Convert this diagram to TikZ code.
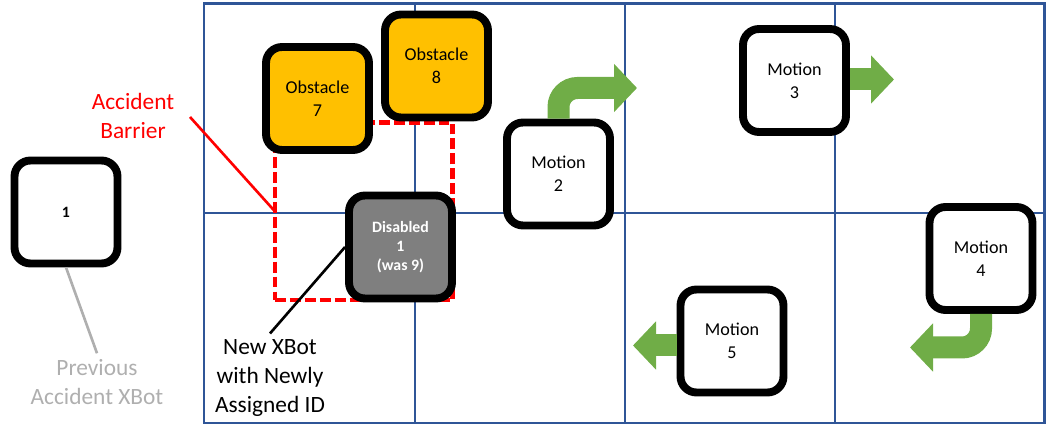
\documentclass[tikz,border=0pt]{standalone}
\usepackage{fontspec}
\setmainfont{Carlito}
\usepackage{tikz}
\usetikzlibrary{arrows.meta,calc,positioning}

\definecolor{gridblue}{HTML}{2F5597}
\definecolor{obstaclefill}{HTML}{FFC000}
\definecolor{disabledfill}{HTML}{7F7F7F}
\definecolor{movegreen}{HTML}{70AD47}
\definecolor{prevgray}{HTML}{AFAFAF}

\tikzset{
  xbot/.style={draw=black, line width=4.5pt, rounded corners=0.32cm, minimum size=2.06cm,
    inner sep=0pt, fill=white, align=center, font=\fontsize{10.3}{12.9}\selectfont},
  obstacle/.style={xbot, fill=obstaclefill},
  disabled/.style={xbot, fill=disabledfill, text=white, font=\fontsize{9}{10.8}\selectfont\bfseries},
  gridline/.style={draw=gridblue, line width=1.7pt},
  motion/.style={draw=movegreen, line width=0.44cm, -{Triangle[width=0.94cm,length=0.46cm]}},
  callout/.style={align=center, font=\fontsize{13.3}{16.4}\selectfont},
}

\begin{document}
\begin{tikzpicture}[x=0.02cm,y=-0.02cm]
            \useasboundingbox (0,0) rectangle (1049,428);
            % Draw the floor grid
            \draw[gridline] (204,4) rectangle (1044,423);
            \foreach \x in {415,625,835}
                \draw[gridline] (\x,4) -- (\x,423);
            \draw[gridline] (204,213) -- (1044,213);
            % Draw the accident barrier
            \node (barrier) [draw=red, line width=2.3pt, dash pattern=on 6.2pt off 2.3pt,
                minimum width=3.55cm, minimum height=3.56cm, inner sep=0pt, outer sep=0pt] at (363.75,211.5) {};
            % Place the XBots
            \node[xbot, font=\fontsize{9}{10.8}\selectfont\bfseries] (prev) at (66,212) {1};
            \node[obstacle] (obs7) at (317.5,98.5) {Obstacle\\7};
            \node[obstacle] (obs8) at (436.5,66) {Obstacle\\8};
            \node[disabled] (dis) at (400.5,247) {Disabled\\1\\(was 9)};
            \node[xbot] (mot2) at (558.5,174) {Motion\\2};
            \node[xbot] (mot3) at (794.5,80.5) {Motion\\3};
            \node[xbot] (mot4) at (981,258.5) {Motion\\4};
            \node[xbot] (mot5) at (732,341) {Motion\\5};
            % Label the barrier, the new XBot and the previous one
            \node[callout, text=red] (barlbl) at (133,116) {Accident\\Barrier};
            \node[callout] (newlbl) at (270,378) {New XBot\\with Newly\\Assigned ID};
            \node[callout, text=prevgray] (prevlbl) at (97,382) {Previous\\Accident XBot};
            \coordinate (barS) at (190,117);
            \draw[red, line width=1.5pt] (barS) -- (barrier.west);
            \draw[black, line width=1.5pt] (dis.west) -- (newlbl.north);
            \draw[prevgray, line width=1.5pt] (prev.south) -- (prevlbl.north);
            % Draw the motion arrows
            \coordinate (m2tip) at (637,88);
            \draw[motion, rounded corners=0.38cm] (mot2.north) |- (m2tip);
            \coordinate (m3tip) at (894,79.5);
            \draw[motion] (mot3.east |- m3tip) -- (m3tip);
            \coordinate (m4tip) at (910,347.5);
            \draw[motion, rounded corners=0.38cm] (mot4.south) |- (m4tip);
            \coordinate (m5tip) at (633,345.5);
            \draw[motion] (mot5.west |- m5tip) -- (m5tip);
\end{tikzpicture}
\end{document}
